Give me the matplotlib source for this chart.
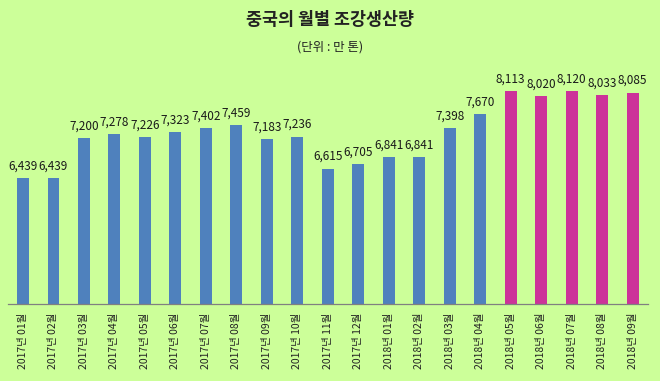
import matplotlib
matplotlib.use("Agg")
import matplotlib.pyplot as plt
import numpy as np

plt.rcParams['font.family'] = ['Noto Sans CJK KR', 'DejaVu Sans']

categories = ['2017년 01월', '2017년 02월', '2017년 03월', '2017년 04월', '2017년 05월',
              '2017년 06월', '2017년 07월', '2017년 08월', '2017년 09월', '2017년 10월',
              '2017년 11월', '2017년 12월', '2018년 01월', '2018년 02월', '2018년 03월',
              '2018년 04월', '2018년 05월', '2018년 06월', '2018년 07월', '2018년 08월',
              '2018년 09월']
values = [6439, 6439, 7200, 7278, 7226, 7323, 7402, 7459, 7183, 7236,
          6615, 6705, 6841, 6841, 7398, 7670, 8113, 8020, 8120, 8033, 8085]
highlight_start = '2018년 05월'

bg = '#CCFF99'
blue = '#4F81BD'
magenta = '#CC3399'

fig = plt.figure(figsize=(6.6, 3.81), dpi=100, facecolor=bg)
ax = fig.add_axes([0.0117, 0.2021, 0.9700, 0.6113], facecolor=bg)

x = np.arange(len(values))
hi = categories.index(highlight_start)
colors = [blue if i < hi else magenta for i in range(len(values))]
ax.bar(x, values, width=0.39, color=colors, zorder=2)

ax.set_ylim(4000, 8500)
ax.set_xlim(-0.5, len(values) - 0.5)

for xi, v in zip(x, values):
    ax.annotate(f'{v:,}', (xi, v), xytext=(0, 4), textcoords='offset points',
                ha='center', va='bottom', fontsize=8.5, color='#1a1a1a')

ax.set_xticks(x)
ax.set_xticklabels(categories, rotation=90, fontsize=7.5, color='#222222')
ax.tick_params(axis='x', length=0, pad=6)
ax.set_yticks([])

for s in ['top', 'right', 'left']:
    ax.spines[s].set_visible(False)
ax.spines['bottom'].set_color('#808080')
ax.spines['bottom'].set_linewidth(0.9)

fig.text(0.5, 0.947, '중국의 월별 조강생산량', ha='center', va='center',
         fontsize=12.5, fontweight='bold', color='#222222')
fig.text(0.5, 0.877, '(단위 : 만 톤)', ha='center', va='center',
         fontsize=9, color='#222222')

fig.savefig('out.png', dpi=100, facecolor=bg)
